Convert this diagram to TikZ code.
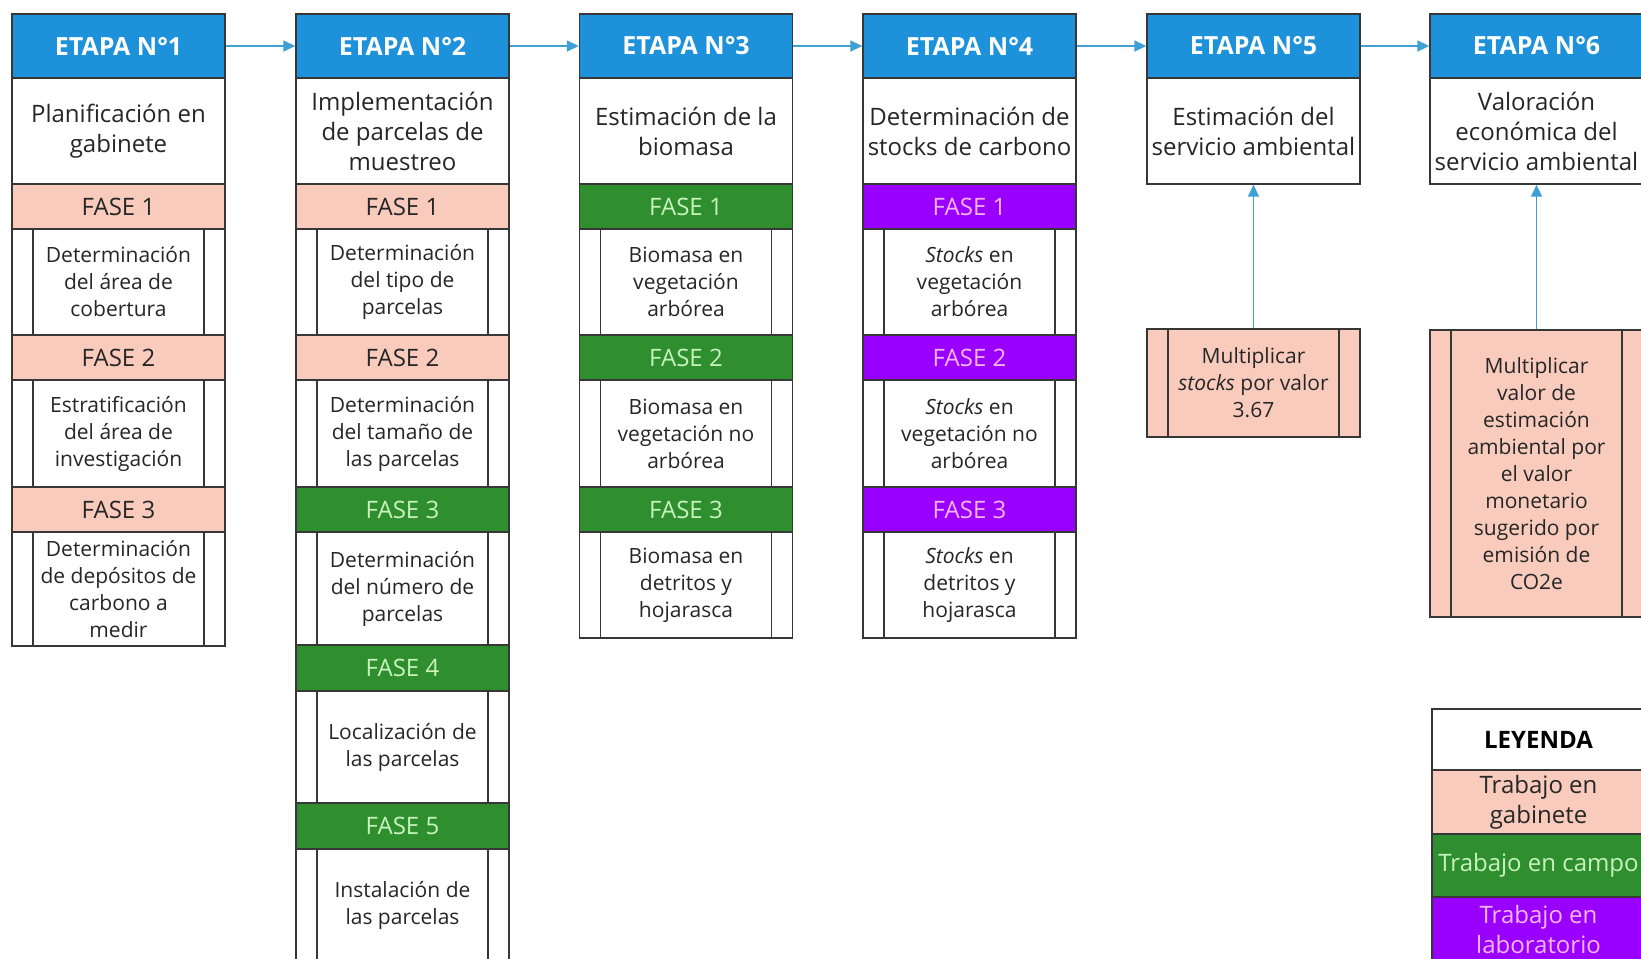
\documentclass[tikz,border=0pt]{standalone}
\usepackage{fontspec}
\setmainfont{Open Sans}
\usepackage{tikz}
\usetikzlibrary{arrows.meta,positioning}

\definecolor{azul}{RGB}{29,145,218}
\definecolor{flecha}{RGB}{62,160,212}
\definecolor{rosa}{RGB}{248,203,189}
\definecolor{verde}{RGB}{47,143,47}
\definecolor{verdeclaro}{RGB}{200,242,190}
\definecolor{morado}{RGB}{153,0,255}
\definecolor{moradoclaro}{RGB}{246,182,240}
\definecolor{linea}{RGB}{55,55,55}
\definecolor{texto}{RGB}{38,38,38}

\begin{document}
\begin{tikzpicture}[x=0.5pt, y=-0.5pt,
    base/.style={draw=linea, line width=0.7pt, minimum width=106.5pt, inner sep=0pt, align=center, text=texto},
    etapa/.style={base, fill=azul, text=white, minimum height=32pt, font=\bfseries\fontsize{12.5}{15}\selectfont},
    titulo/.style={base, fill=white, minimum height=53pt, font=\fontsize{12}{15}\selectfont},
    fase/.style={base, minimum height=22.5pt, font=\fontsize{12}{14}\selectfont},
    gab/.style={fase, fill=rosa},
    camp/.style={fase, fill=verde, text=verdeclaro},
    lab/.style={fase, fill=morado, text=moradoclaro},
    proc/.style={base, fill=white, minimum height=53pt, font=\fontsize{10.5}{13.5}\selectfont,
        path picture={
            \draw[linea, line width=0.7pt] ([xshift=10.5pt]path picture bounding box.north west) -- ([xshift=10.5pt]path picture bounding box.south west);
            \draw[linea, line width=0.7pt] ([xshift=-10.5pt]path picture bounding box.north east) -- ([xshift=-10.5pt]path picture bounding box.south east);
        }},
    arr/.style={-{Triangle[length=6pt,width=5.5pt]}, flecha, line width=0.8pt}
]
    \useasboundingbox (0,0) rectangle (1641,958);
    \clip (0,0) rectangle (1641,958);

    % Etapa 1
    \node[etapa] (e1) at (118.5,46) {ETAPA N°1};
    \node[titulo] (t1) at (118.5,131) {Planificación en\\gabinete};
    \node[gab] (f11) at (118.5,206.5) {FASE 1};
    \node[proc] (p11) at (118.5,282) {Determinación\\del área de\\cobertura};
    \node[gab] (f12) at (118.5,357.5) {FASE 2};
    \node[proc] (p12) at (118.5,433.5) {Estratificación\\del área de\\investigación};
    \node[gab] (f13) at (118.5,509.5) {FASE 3};
    \node[proc, minimum height=57pt] (p13) at (118.5,589) {Determinación\\de depósitos de\\carbono a\\medir};

    % Etapa 2
    \node[etapa] (e2) at (402.5,46) {ETAPA N°2};
    \node[titulo] (t2) at (402.5,131) {Implementación\\de parcelas de\\muestreo};
    \node[gab] (f21) at (402.5,206.5) {FASE 1};
    \node[proc] (p21) at (402.5,282) {Determinación\\del tipo de\\parcelas};
    \node[gab] (f22) at (402.5,357.5) {FASE 2};
    \node[proc] (p22) at (402.5,433.5) {Determinación\\del tamaño de\\las parcelas};
    \node[camp] (f23) at (402.5,509.5) {FASE 3};
    \node[proc, minimum height=56.5pt] (p23) at (402.5,588.5) {Determinación\\del número de\\parcelas};
    \node[camp, minimum height=23pt] (f24) at (402.5,668) {FASE 4};
    \node[proc, minimum height=56pt] (p24) at (402.5,747) {Localización de\\las parcelas};
    \node[camp, minimum height=23pt] (f25) at (402.5,826) {FASE 5};
    \node[proc, minimum height=56pt] (p25) at (402.5,905) {Instalación de\\las parcelas};

    % Etapa 3
    \node[etapa] (e3) at (686,46) {ETAPA N°3};
    \node[titulo] (t3) at (686,131) {Estimación de la\\biomasa};
    \node[camp] (f31) at (686,206.5) {FASE 1};
    \node[proc] (p31) at (686,282) {Biomasa en\\vegetación\\arbórea};
    \node[camp] (f32) at (686,357.5) {FASE 2};
    \node[proc] (p32) at (686,433.5) {Biomasa en\\vegetación no\\arbórea};
    \node[camp] (f33) at (686,509.5) {FASE 3};
    \node[proc] (p33) at (686,585) {Biomasa en\\detritos y\\hojarasca};

    % Etapa 4
    \node[etapa] (e4) at (969.5,46) {ETAPA N°4};
    \node[titulo] (t4) at (969.5,131) {Determinación de\\stocks de carbono};
    \node[lab] (f41) at (969.5,206.5) {FASE 1};
    \node[proc] (p41) at (969.5,282) {\textit{Stocks} en\\vegetación\\arbórea};
    \node[lab] (f42) at (969.5,357.5) {FASE 2};
    \node[proc] (p42) at (969.5,433.5) {\textit{Stocks} en\\vegetación no\\arbórea};
    \node[lab] (f43) at (969.5,509.5) {FASE 3};
    \node[proc] (p43) at (969.5,585) {\textit{Stocks} en\\detritos y\\hojarasca};

    % Etapa 5
    \node[etapa] (e5) at (1253.5,46) {ETAPA N°5};
    \node[titulo] (t5) at (1253.5,131) {Estimación del\\servicio ambiental};
    \node[proc, fill=rosa, minimum height=54pt] (m5) at (1253.5,383) {Multiplicar\\\textit{stocks} por valor\\3.67};

    % Etapa 6
    \node[etapa] (e6) at (1536.5,46) {ETAPA N°6};
    \node[titulo] (t6) at (1536.5,131) {Valoración\\económica del\\servicio ambiental};
    \node[proc, fill=rosa, minimum height=143.5pt] (m6) at (1536.5,473.5) {Multiplicar\\valor de\\estimación\\ambiental por\\el valor\\monetario\\sugerido por\\emisión de\\CO2e};

    % Leyenda
    \node[base, fill=white, text=black, minimum height=30.5pt, font=\bfseries\fontsize{12}{15}\selectfont] (ley) at (1538.5,739.5) {LEYENDA};
    \node[gab, minimum height=32pt, font=\fontsize{12}{15}\selectfont] (lgab) at (1538.5,802) {Trabajo en\\gabinete};
    \node[camp, minimum height=31.5pt, font=\fontsize{12}{15}\selectfont] (lcamp) at (1538.5,865.5) {Trabajo en campo};
    \node[lab, minimum height=32pt, font=\fontsize{12}{15}\selectfont] (llab) at (1538.5,929) {Trabajo en\\laboratorio};

    % Flechas
    \foreach \a/\b in {e1/e2, e2/e3, e3/e4, e4/e5, e5/e6}
        \draw[arr] (\a) -- (\b);
    \draw[arr] (m5) -- (t5);
    \draw[arr] (m6) -- (t6);
\end{tikzpicture}
\end{document}
